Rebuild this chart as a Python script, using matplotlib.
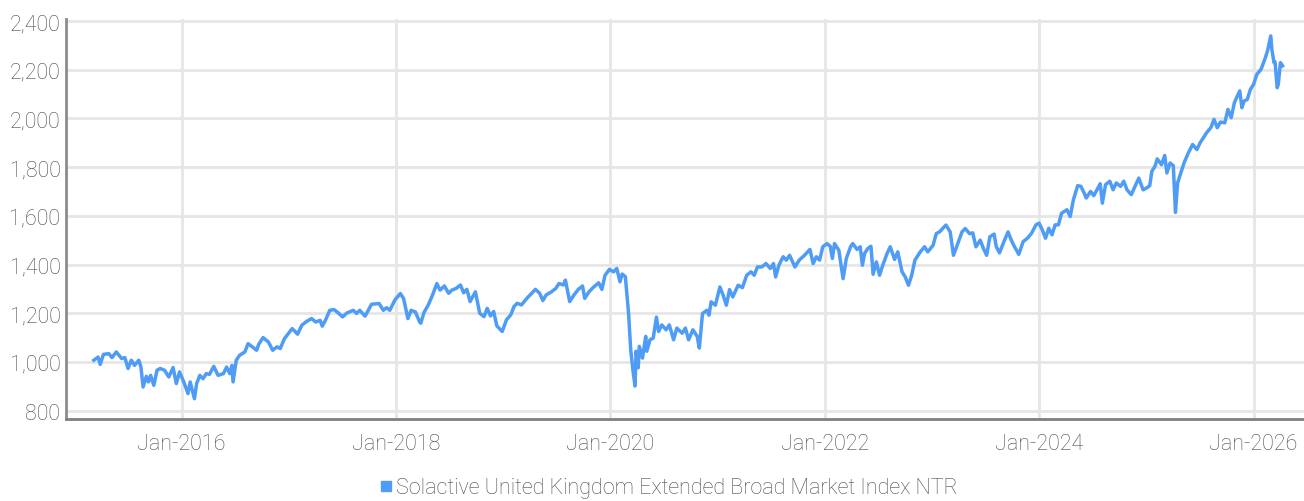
import matplotlib
matplotlib.use("Agg")
import matplotlib.pyplot as plt
import matplotlib.dates as mdates
from matplotlib.lines import Line2D
from matplotlib.ticker import FuncFormatter
import pandas as pd

plt.rcParams['font.family'] = ['Roboto', 'DejaVu Sans']
plt.rcParams['font.weight'] = 'light'

# decimal year, index level
t_year = [
    2015.18, 2015.22, 2015.24, 2015.27, 2015.32, 2015.35, 2015.39, 2015.44, 2015.47, 2015.50,
    2015.53, 2015.56, 2015.60, 2015.62, 2015.64, 2015.67, 2015.69, 2015.71, 2015.74, 2015.77,
    2015.80, 2015.84, 2015.88, 2015.92, 2015.95, 2015.98, 2016.02, 2016.06, 2016.08, 2016.12,
    2016.14, 2016.17, 2016.20, 2016.23, 2016.26, 2016.30, 2016.34, 2016.39, 2016.42, 2016.45,
    2016.47, 2016.48, 2016.51, 2016.54, 2016.59, 2016.62, 2016.66, 2016.70, 2016.72, 2016.76,
    2016.81, 2016.85, 2016.89, 2016.92, 2016.96, 2017.03, 2017.08, 2017.12, 2017.17, 2017.21,
    2017.25, 2017.29, 2017.31, 2017.34, 2017.38, 2017.42, 2017.46, 2017.50, 2017.54, 2017.60,
    2017.63, 2017.66, 2017.71, 2017.77, 2017.84, 2017.88, 2017.91, 2017.94, 2017.99, 2018.04,
    2018.07, 2018.11, 2018.14, 2018.18, 2018.22,
    2018.23, 2018.26, 2018.30, 2018.34, 2018.38, 2018.41, 2018.45, 2018.49, 2018.52, 2018.56,
    2018.60, 2018.63, 2018.66, 2018.69, 2018.74, 2018.78, 2018.82, 2018.85, 2018.88, 2018.91,
    2018.94, 2018.99, 2019.03, 2019.07, 2019.10, 2019.13, 2019.17, 2019.22, 2019.25, 2019.30,
    2019.34, 2019.37, 2019.40, 2019.45, 2019.49, 2019.52, 2019.56, 2019.58, 2019.62, 2019.66,
    2019.70, 2019.74, 2019.76, 2019.80, 2019.84, 2019.89, 2019.92, 2019.95, 2019.99, 2020.03,
    2020.06, 2020.09, 2020.11, 2020.14, 2020.16, 2020.17, 2020.19, 2020.21, 2020.23, 2020.24,
    2020.26, 2020.27, 2020.30, 2020.33, 2020.34, 2020.37, 2020.40, 2020.43, 2020.45, 2020.48,
    2020.52, 2020.55, 2020.59, 2020.62, 2020.67, 2020.70, 2020.73, 2020.77, 2020.81, 2020.83,
    2020.86, 2020.90, 2020.92, 2020.94, 2020.98, 2021.02, 2021.05, 2021.08, 2021.11, 2021.14,
    2021.19, 2021.23, 2021.27, 2021.31, 2021.34, 2021.37, 2021.41, 2021.45, 2021.49, 2021.52,
    2021.54, 2021.57, 2021.61, 2021.64, 2021.67, 2021.72, 2021.76, 2021.80, 2021.86, 2021.89,
    2021.92, 2021.95, 2021.98, 2022.02, 2022.05, 2022.07, 2022.09, 2022.13, 2022.17, 2022.20,
    2022.24, 2022.26, 2022.30, 2022.33, 2022.35, 2022.37, 2022.40, 2022.43, 2022.45, 2022.48,
    2022.51, 2022.54, 2022.58, 2022.61, 2022.65, 2022.68, 2022.72, 2022.75, 2022.78, 2022.81,
    2022.84, 2022.89, 2022.93, 2022.96, 2023.01, 2023.04, 2023.07, 2023.10, 2023.13, 2023.17,
    2023.20, 2023.23, 2023.28, 2023.31, 2023.35, 2023.38, 2023.41, 2023.45, 2023.48, 2023.51,
    2023.54, 2023.58, 2023.60, 2023.63, 2023.67, 2023.71, 2023.74, 2023.77, 2023.81,
    2023.85, 2023.89, 2023.93, 2023.97, 2024.00, 2024.03, 2024.06, 2024.09, 2024.12, 2024.15,
    2024.18, 2024.21, 2024.26, 2024.29, 2024.32, 2024.36, 2024.39, 2024.42, 2024.44, 2024.48,
    2024.51, 2024.54, 2024.57, 2024.59, 2024.62, 2024.66, 2024.69, 2024.72, 2024.76, 2024.79,
    2024.82, 2024.86, 2024.91, 2024.93, 2024.97, 2025.00, 2025.03, 2025.05, 2025.08, 2025.10,
    2025.14, 2025.17, 2025.19, 2025.22, 2025.25, 2025.27, 2025.29, 2025.32, 2025.35, 2025.39,
    2025.43, 2025.47, 2025.50, 2025.53, 2025.56, 2025.60, 2025.63, 2025.66, 2025.69, 2025.73,
    2025.76, 2025.79, 2025.82, 2025.84, 2025.87, 2025.89, 2025.91, 2025.94, 2025.97, 2026.00,
    2026.03, 2026.07, 2026.11, 2026.13, 2026.16, 2026.17, 2026.19, 2026.20, 2026.22, 2026.23,
    2026.25, 2026.27,
]
index_val = [
    1007, 1020, 990, 1031, 1034, 1018, 1041, 1014, 1018, 973,
    1007, 986, 1007, 979, 897, 941, 918, 945, 904, 966,
    973, 966, 938, 977, 911, 959, 918, 870, 918, 849,
    911, 945, 931, 952, 949, 982, 945, 952, 979, 952,
    986, 918, 1007, 1027, 1041, 1075, 1062, 1048, 1073, 1100,
    1082, 1048, 1062, 1055, 1096, 1137, 1114, 1151, 1168, 1178,
    1164, 1171, 1147, 1171, 1212, 1215, 1201, 1185, 1201, 1212,
    1199, 1212, 1188, 1237, 1240, 1212, 1223, 1212, 1256, 1281,
    1260, 1178, 1212, 1205, 1164,
    1159, 1203, 1234, 1275, 1322, 1295, 1312, 1282, 1295, 1302,
    1316, 1284, 1298, 1248, 1288, 1200, 1186, 1220, 1189, 1207,
    1148, 1125, 1173, 1193, 1227, 1241, 1234, 1261, 1275, 1298,
    1282, 1252, 1275, 1288, 1302, 1322, 1316, 1336, 1248, 1275,
    1298, 1312, 1261, 1288, 1306, 1325, 1298, 1356, 1380, 1370,
    1384, 1329, 1361, 1350, 1248, 1200, 1050, 969, 901, 1044,
    976, 1064, 1016, 1105, 1044, 1091, 1098, 1184, 1125, 1152,
    1132, 1152, 1091, 1139, 1118, 1139, 1091, 1132, 1105, 1057,
    1199, 1212, 1192, 1247, 1233, 1308, 1274, 1233, 1297, 1267,
    1315, 1305, 1356, 1370, 1356, 1390, 1390, 1404, 1384, 1404,
    1349, 1397, 1432, 1418, 1438, 1390, 1418, 1434, 1462, 1404,
    1432, 1418, 1473, 1486, 1475, 1425, 1486, 1459, 1342, 1425,
    1473, 1486, 1462, 1473, 1397, 1445, 1466, 1475, 1360, 1411,
    1356, 1397, 1445, 1473, 1421, 1452, 1370, 1349, 1315, 1356,
    1418, 1452, 1473, 1452, 1479, 1527, 1534, 1548, 1562, 1534,
    1438, 1473, 1534, 1548, 1527, 1530, 1473, 1500, 1466, 1438,
    1514, 1525, 1473, 1448, 1493, 1534, 1500, 1473, 1442,
    1494, 1508, 1529, 1563, 1570, 1542, 1508, 1549, 1522, 1563,
    1563, 1611, 1625, 1597, 1666, 1724, 1721, 1694, 1673, 1700,
    1683, 1707, 1732, 1652, 1728, 1742, 1707, 1735, 1721, 1742,
    1707, 1687, 1735, 1755, 1707, 1714, 1724, 1783, 1804, 1834,
    1810, 1848, 1776, 1817, 1806, 1614, 1735, 1776, 1817, 1858,
    1893, 1872, 1900, 1920, 1941, 1962, 1996, 1962, 1985, 1982,
    2037, 2003, 2065, 2085, 2113, 2044, 2071, 2078, 2120, 2140,
    2181, 2202, 2250, 2278, 2339, 2284, 2229, 2232, 2126, 2140,
    2229, 2216,
]
y_ticks = [800, 1000, 1200, 1400, 1600, 1800, 2000, 2200, 2400]
series_name = "Solactive United Kingdom Extended Broad Market Index NTR"


def to_date(y):
    yr = int(y)
    return pd.Timestamp(yr, 1, 1) + pd.Timedelta(days=(y - yr) * 365.25)


dates = [to_date(y) for y in t_year]

line_color = '#4f9cf6'
text_color = '#4a4a4a'
grid_color = '#e6e6e6'

fig = plt.figure(figsize=(13.04, 5.02), dpi=100)
ax = fig.add_axes([0.0506, 0.163, 0.9494, 0.798])

ax.plot(dates, index_val, color=line_color, lw=2.5, solid_joinstyle='round')

ax.set_xlim(to_date(2014.92), to_date(2026.47))
ax.set_ylim(765, 2410)
ax.set_yticks(y_ticks)
ax.yaxis.set_major_formatter(FuncFormatter(lambda v, p: f"{int(v):,}"))
ax.xaxis.set_major_locator(mdates.YearLocator(2, month=1, day=1))
ax.xaxis.set_major_formatter(mdates.DateFormatter('%b-%Y'))

ax.grid(True, color=grid_color, lw=2)
ax.set_axisbelow(True)

for s in ['top', 'right']:
    ax.spines[s].set_visible(False)
ax.spines['left'].set_color('#8c8c8c')
ax.spines['left'].set_linewidth(2)
ax.spines['bottom'].set_color('#7f7f7f')
ax.spines['bottom'].set_linewidth(2)

ax.tick_params(axis='both', length=0, colors=text_color, labelsize=15.5)
ax.tick_params(axis='x', pad=10)
ax.tick_params(axis='y', pad=4)

handle = Line2D([], [], marker='s', color=line_color, lw=0, markersize=7)
fig.legend([handle], [series_name], loc='center', bbox_to_anchor=(0.512, 0.026),
           frameon=False, fontsize=15.5, labelcolor=text_color,
           handletextpad=0.05, handlelength=0.8, borderpad=0)

fig.savefig('out.png', dpi=100)
